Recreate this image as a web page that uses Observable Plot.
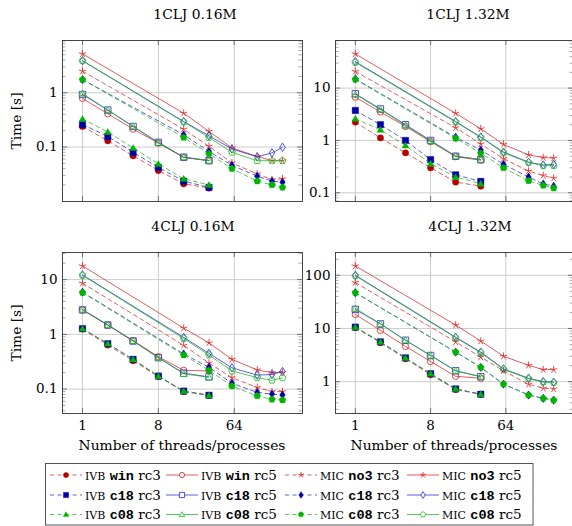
<!DOCTYPE html>
<html><head><meta charset="utf-8">
<script src="https://cdn.jsdelivr.net/npm/d3@7"></script>
<script src="https://cdn.jsdelivr.net/npm/@observablehq/plot@0.6"></script>
<style>
html,body{margin:0;padding:0;background:#fff;overflow:hidden}
#fig{position:relative;width:572px;height:526px;font-family:"DejaVu Serif",serif;color:#000;overflow:hidden}
.abs{position:absolute}
.txt{position:absolute;white-space:nowrap;transform:translate(-50%,-50%);font-size:13.8px;line-height:1}
.rot{transform:translate(-50%,-50%) rotate(-90deg)}
</style></head><body><div id="fig"></div>
<script>
// ---------- data ----------
const ivbThreads = [1, 2, 4, 8, 16, 32];
const micThreads = [1, 16, 32, 60, 120, 180, 240];
const seriesArch = ["IVB","IVB","MIC","MIC","IVB","IVB","MIC","MIC","IVB","IVB","MIC","MIC"];
const seriesVariant = ["win","win","no3","no3","c18","c18","c18","c18","c08","c08","c08","c08"];
const seriesRc = ["rc3","rc5","rc3","rc5","rc3","rc5","rc3","rc5","rc3","rc5","rc3","rc5"];
const panelTitles = ["1CLJ 0.16M", "1CLJ 1.32M", "4CLJ 0.16M", "4CLJ 1.32M"];
const xTickValues = [1, 8, 64];
const yTickValues = [0.01, 0.1, 1, 10, 100, 1000];
const xLabel = "Number of threads/processes";
const yLabel = "Time [s]";

// times [s], one row per series in legend order
const times1CLJ016 = [
  [0.24, 0.13, 0.069, 0.037, 0.021, 0.0175],
  [0.79, 0.41, 0.214, 0.118, 0.064, 0.056],
  [2.5, 0.213, 0.103, 0.051, 0.032, 0.025, 0.026],
  [5.2, 0.42, 0.194, 0.096, 0.067, 0.056, 0.056],
  [0.26, 0.157, 0.080, 0.042, 0.0235, 0.018],
  [0.93, 0.48, 0.239, 0.122, 0.065, 0.056],
  [1.75, 0.168, 0.083, 0.046, 0.029, 0.0235, 0.0225],
  [3.9, 0.295, 0.161, 0.092, 0.066, 0.078, 0.099],
  [0.33, 0.19, 0.096, 0.049, 0.026, 0.020],
  [0.97, 0.48, 0.24, 0.12, 0.065, 0.056],
  [1.75, 0.15, 0.075, 0.040, 0.0235, 0.020, 0.018],
  [3.9, 0.29, 0.15, 0.08, 0.056, 0.056, 0.056]
];
const times1CLJ132 = [
  [2.24, 1.12, 0.58, 0.30, 0.16, 0.134],
  [6.7, 3.5, 1.85, 0.95, 0.49, 0.42],
  [20.8, 1.75, 0.86, 0.45, 0.26, 0.214, 0.19],
  [45, 3.3, 1.67, 0.84, 0.53, 0.47, 0.46],
  [3.74, 2.0, 1.0, 0.43, 0.22, 0.165],
  [7.8, 4.0, 2.0, 1.0, 0.50, 0.43],
  [15, 1.15, 0.66, 0.35, 0.20, 0.148, 0.134],
  [32, 2.3, 1.16, 0.60, 0.385, 0.34, 0.35],
  [2.6, 1.6, 0.80, 0.36, 0.20, 0.15],
  [7.6, 3.9, 1.93, 0.97, 0.50, 0.43],
  [14.7, 1.1, 0.57, 0.30, 0.17, 0.138, 0.123],
  [31, 2.25, 1.14, 0.58, 0.38, 0.33, 0.33]
];
const times4CLJ016 = [
  [1.25, 0.64, 0.33, 0.17, 0.09, 0.077],
  [2.8, 1.48, 0.77, 0.39, 0.22, 0.215],
  [8.6, 0.63, 0.30, 0.162, 0.107, 0.090, 0.090],
  [17.8, 1.30, 0.70, 0.35, 0.224, 0.20, 0.20],
  [1.27, 0.675, 0.35, 0.173, 0.092, 0.077],
  [2.8, 1.48, 0.755, 0.375, 0.195, 0.167],
  [5.9, 0.44, 0.25, 0.128, 0.087, 0.081, 0.078],
  [12.2, 0.88, 0.45, 0.245, 0.18, 0.185, 0.21],
  [1.27, 0.68, 0.35, 0.173, 0.092, 0.077],
  [2.85, 1.5, 0.76, 0.375, 0.19, 0.165],
  [5.8, 0.42, 0.22, 0.114, 0.075, 0.065, 0.063],
  [12.0, 0.84, 0.42, 0.215, 0.162, 0.145, 0.16]
];
const times4CLJ132 = [
  [10.4, 5.4, 2.7, 1.35, 0.71, 0.58],
  [18.4, 9.2, 4.6, 2.4, 1.26, 1.16],
  [73, 5.6, 2.9, 1.6, 0.89, 0.75, 0.73],
  [150, 11.6, 5.8, 3.0, 2.03, 1.68, 1.68],
  [10.6, 5.6, 2.8, 1.41, 0.73, 0.58],
  [22.8, 12.2, 6.0, 3.1, 1.6, 1.24],
  [47, 3.6, 1.86, 0.9, 0.56, 0.485, 0.45],
  [100, 6.85, 3.6, 1.74, 1.16, 1.0, 0.98],
  [10.6, 5.6, 2.8, 1.41, 0.73, 0.58],
  [23.8, 12.2, 6.0, 3.1, 1.6, 1.24],
  [47, 3.6, 1.86, 0.90, 0.56, 0.485, 0.45],
  [98, 6.7, 3.5, 1.7, 1.13, 0.98, 0.96]
];
const panelTimes = [times1CLJ016, times1CLJ132, times4CLJ016, times4CLJ132];

// ---------- styles ----------
const lineColor = {win: "#d42a2a", no3: "#d42a2a", c18: "#2a2ad0", c08: "#22b422"};
const fillColor = {win: "#b80000", no3: "#b80000", c18: "#0000a8", c08: "#00b400"};
const openColor = {win: "#e02828", no3: "#e02828", c18: "#3232d4", c08: "#26c426"};

function rad(size){ return Math.sqrt(size/Math.PI); }
const symCircle = {draw(c,s){const r=rad(s); c.moveTo(r,0); c.arc(0,0,r,0,2*Math.PI);}};
const symSquare = {draw(c,s){const r=rad(s)*1.0; c.moveTo(-r,-r); c.lineTo(r,-r); c.lineTo(r,r); c.lineTo(-r,r); c.closePath();}};
const symTriangle = {draw(c,s){const r=rad(s)*1.25; for(let i=0;i<3;i++){const a=-Math.PI/2+i*2*Math.PI/3; const x=r*Math.cos(a), y=r*Math.sin(a)+r*0.15; i?c.lineTo(x,y):c.moveTo(x,y);} c.closePath();}};
const symDiamond = {draw(c,s){const r=rad(s); c.moveTo(0,-r*1.3); c.lineTo(r*0.85,0); c.lineTo(0,r*1.3); c.lineTo(-r*0.85,0); c.closePath();}};
const symPentagon = {draw(c,s){const r=rad(s)*1.12; for(let i=0;i<5;i++){const a=-Math.PI/2+i*2*Math.PI/5; const x=r*Math.cos(a), y=r*Math.sin(a); i?c.lineTo(x,y):c.moveTo(x,y);} c.closePath();}};
const symStar = {draw(c,s){const r=rad(s)*1.2; for(let i=0;i<5;i++){const a=-Math.PI/2+i*2*Math.PI/5; c.moveTo(0,0); c.lineTo(r*Math.cos(a), r*Math.sin(a));}}};

function seriesStyle(i){
  const v = seriesVariant[i], arch = seriesArch[i], rc = seriesRc[i];
  const dashed = rc === "rc3";
  let sym;
  if (v === "no3") sym = symStar;
  else if (v === "win") sym = symCircle;
  else if (arch === "IVB") sym = v === "c18" ? symSquare : symTriangle;
  else sym = v === "c18" ? symDiamond : symPentagon;
  const filled = dashed && sym !== symStar;
  return {dashed, sym, filled, line: lineColor[v], fill: fillColor[v], open: openColor[v], star: sym === symStar};
}

function logDomain(times, base){
  const all = times.flat();
  const lo = Math.log(d3.min(all))/Math.log(base), hi = Math.log(d3.max(all))/Math.log(base);
  const pad = (hi-lo)*0.1;
  return [Math.pow(base, lo-pad), Math.pow(base, hi+pad)];
}

const xDomain = logDomain([ivbThreads, micThreads], 2);
const fig = document.getElementById("fig");

const panels = [
  {left: 0, top: 0, width: 310, ml: 62, mr: 8, bottom: false, yLab: true, title: [195, 15]},
  {left: 280, top: 0, width: 293, ml: 55, mr: 0, bottom: false, yLab: false, title: [468, 15]},
  {left: 0, top: 212, width: 310, ml: 62, mr: 8, bottom: true, yLab: true, title: [193, 227]},
  {left: 280, top: 212, width: 293, ml: 55, mr: 0, bottom: true, yLab: false, title: [470, 227]}
];
const H = 230, MT = 40, MB = 29;

panels.forEach((p, k) => {
  const times = panelTimes[k];
  const yDomain = logDomain(times, 10);
  const fw = p.width - p.ml - p.mr, fh = H - MT - MB;
  const majors = yTickValues.filter(v => v >= yDomain[0] * 1.06 && v <= yDomain[1] / 1.06);
  const minors = [];
  for (let e = -3; e <= 3; e++) for (let m = 2; m <= 9; m++) {
    const v = m*Math.pow(10,e); if (v >= yDomain[0] && v <= yDomain[1]) minors.push(v);
  }
  const marks = [
    Plot.gridX(xTickValues, {stroke: "#c6c6c6", strokeOpacity: 1, strokeWidth: 0.9}),
    Plot.gridY(majors, {stroke: "#c6c6c6", strokeOpacity: 1, strokeWidth: 0.9})
  ];
  times.forEach((row, i) => {
    const st = seriesStyle(i);
    const xs = seriesArch[i] === "IVB" ? ivbThreads : micThreads;
    const data = row.map((t, j) => ({x: xs[j], t}));
    marks.push(Plot.line(data, {x: "x", y: "t", stroke: st.line, strokeWidth: 0.75, strokeDasharray: st.dashed ? "4,3.5" : null}));
    marks.push(Plot.dot(data, {x: "x", y: "t", symbol: st.sym, r: 3.2,
      fill: st.filled ? st.fill : "none",
      stroke: st.filled ? st.fill : st.open,
      strokeWidth: st.filled ? 0.4 : 0.85}));
  });
  // inward ticks
  marks.push(Plot.tickY(minors, {y: d => d, stroke: "#8a8a8a", strokeWidth: 0.7, insetRight: fw - 3.5}));
  marks.push(Plot.tickY(minors, {y: d => d, stroke: "#8a8a8a", strokeWidth: 0.7, insetLeft: fw - 3.5}));
  marks.push(Plot.tickY(majors, {y: d => d, stroke: "#555", strokeWidth: 0.8, insetRight: fw - 5}));
  marks.push(Plot.tickY(majors, {y: d => d, stroke: "#555", strokeWidth: 0.8, insetLeft: fw - 5}));
  marks.push(Plot.tickX(xTickValues, {x: d => d, stroke: "#555", strokeWidth: 0.8, insetTop: fh - 5}));
  marks.push(Plot.tickX(xTickValues, {x: d => d, stroke: "#555", strokeWidth: 0.8, insetBottom: fh - 5}));
  marks.push(Plot.frame({stroke: "#333", strokeWidth: 0.9}));
  marks.push(Plot.axisY(majors, {tickSize: 0, tickPadding: 5, label: null, tickFormat: d3.format("~g")}));
  if (p.bottom) marks.push(Plot.axisX(xTickValues, {tickSize: 0, tickPadding: 7, label: null, tickFormat: d => String(d)}));

  const svg = Plot.plot({
    width: p.width, height: H,
    marginLeft: p.ml, marginRight: p.mr, marginTop: MT, marginBottom: MB,
    x: {type: "log", base: 2, domain: xDomain, axis: p.bottom ? undefined : null},
    y: {type: "log", domain: yDomain},
    style: {background: "transparent", overflow: "visible", maxWidth: "none", fontFamily: "'DejaVu Serif', serif", fontSize: "13.5px", color: "#000"},
    marks
  });
  svg.style.position = "absolute";
  svg.style.left = p.left + "px";
  svg.style.top = p.top + "px";
  fig.appendChild(svg);

  const t = document.createElement("div");
  t.className = "txt"; t.textContent = panelTitles[k];
  t.style.left = p.title[0] + "px"; t.style.top = p.title[1] + "px";
  fig.appendChild(t);
  if (p.yLab) {
    const yl = document.createElement("div");
    yl.className = "txt rot"; yl.textContent = yLabel;
    yl.style.left = "17px"; yl.style.top = (p.top + MT + fh/2) + "px";
    fig.appendChild(yl);
  }
  if (p.bottom) {
    const xl = document.createElement("div");
    xl.className = "txt"; xl.textContent = xLabel;
    xl.style.left = (p.left + p.ml + fw/2) + "px"; xl.style.top = "446px";
    fig.appendChild(xl);
  }
});

// ---------- legend ----------
const leg = d3.select(fig).append("svg").attr("class", "abs")
  .attr("width", 572).attr("height", 64)
  .style("left", "0px").style("top", "462px");
leg.append("rect").attr("x", 45.5).attr("y", 1.5).attr("width", 487.5).attr("height", 61.5)
  .attr("fill", "white").attr("stroke", "#444").attr("stroke-width", 0.9);
const colX = [50, 166, 285, 407];
const rowY = [13, 33, 52.5];
const legendOrder = [[0,1,2,3],[4,5,6,7],[8,9,10,11]];
legendOrder.forEach((row, r) => row.forEach((i, c) => {
  const st = seriesStyle(i);
  const x0 = colX[c], y0 = rowY[r];
  const g = leg.append("g");
  g.append("line").attr("x1", x0).attr("x2", x0 + 32).attr("y1", y0).attr("y2", y0)
    .attr("stroke", st.line).attr("stroke-width", 0.75).attr("stroke-dasharray", st.dashed ? "4,3.5" : null);
  g.append("path").attr("d", d3.symbol(st.sym, Math.PI*2.6*2.6)())
    .attr("transform", `translate(${x0+16},${y0})`)
    .attr("fill", st.filled ? st.fill : "white").attr("stroke", st.filled ? st.fill : st.open)
    .attr("stroke-width", st.filled ? 0.4 : 0.85);
  const tx = g.append("text").attr("x", x0 + 35).attr("y", y0).attr("dy", "0.36em")
    .attr("font-family", "'DejaVu Serif', serif").attr("font-size", 13.5);
  tx.append("tspan").attr("font-size", 11).text(seriesArch[i]);
  tx.append("tspan").text(" ");
  tx.append("tspan").attr("font-family", "'Liberation Mono', monospace").attr("font-weight", "bold").attr("font-size", 13.5).text(seriesVariant[i]);
  tx.append("tspan").text(" " + seriesRc[i]);
}));
</script></body></html>
